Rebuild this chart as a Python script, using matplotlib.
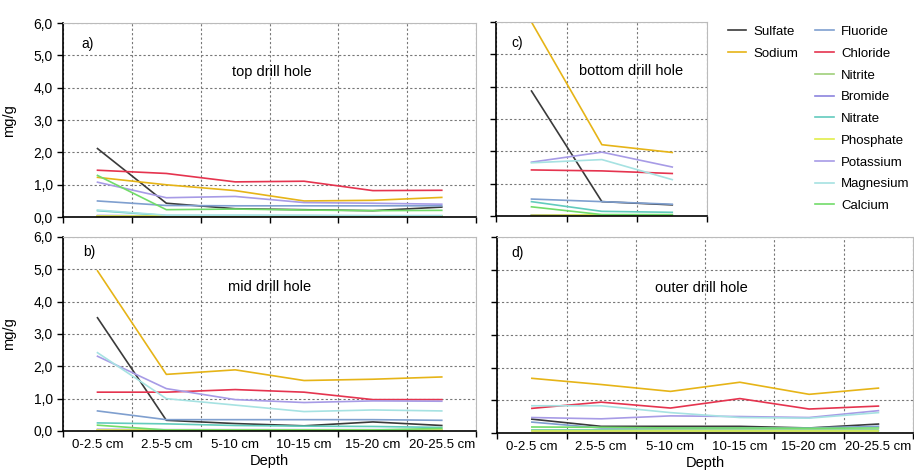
import numpy as np
import matplotlib
matplotlib.use("Agg")
import matplotlib.pyplot as plt
from matplotlib.ticker import FuncFormatter

plt.rcParams['font.family'] = ['Liberation Sans', 'DejaVu Sans']

depths = ['0-2.5 cm', '2.5-5 cm', '5-10 cm', '10-15 cm', '15-20 cm', '20-25.5 cm']
species = ['Sulfate', 'Sodium', 'Fluoride', 'Chloride', 'Nitrite', 'Bromide',
           'Nitrate', 'Phosphate', 'Potassium', 'Magnesium', 'Calcium']
colors = {
    'Sulfate': '#3a3a3a', 'Sodium': '#e6b417', 'Fluoride': '#7f9fcf',
    'Chloride': '#e5344f', 'Nitrite': '#9fd07a', 'Bromide': '#8c84de',
    'Nitrate': '#62cbbd', 'Phosphate': '#e2ee4a', 'Potassium': '#a79be6',
    'Magnesium': '#a6e2e2', 'Calcium': '#72dc6a',
}

# a) top drill hole
top = {
    'Sulfate':   [2.12, 0.43, 0.26, 0.23, 0.20, 0.31],
    'Sodium':    [1.23, 1.00, 0.82, 0.50, 0.52, 0.61],
    'Fluoride':  [0.50, 0.36, 0.35, 0.35, 0.35, 0.35],
    'Chloride':  [1.45, 1.35, 1.09, 1.11, 0.82, 0.83],
    'Nitrite':   [0.03, 0.02, 0.02, 0.02, 0.02, 0.02],
    'Bromide':   [0.05, 0.04, 0.04, 0.04, 0.04, 0.04],
    'Nitrate':   [0.20, 0.05, 0.05, 0.05, 0.04, 0.04],
    'Phosphate': [0.02, 0.02, 0.02, 0.02, 0.02, 0.02],
    'Potassium': [1.08, 0.60, 0.64, 0.45, 0.43, 0.40],
    'Magnesium': [0.22, 0.06, 0.06, 0.05, 0.05, 0.05],
    'Calcium':   [1.29, 0.23, 0.25, 0.22, 0.20, 0.21],
}

# b) mid drill hole
mid = {
    'Sulfate':   [3.50, 0.33, 0.23, 0.16, 0.28, 0.17],
    'Sodium':    [4.95, 1.75, 1.89, 1.56, 1.60, 1.67],
    'Fluoride':  [0.62, 0.35, 0.35, 0.35, 0.35, 0.33],
    'Chloride':  [1.20, 1.20, 1.28, 1.20, 0.97, 0.97],
    'Nitrite':   [0.03, 0.02, 0.02, 0.02, 0.02, 0.02],
    'Bromide':   [0.05, 0.04, 0.04, 0.04, 0.04, 0.04],
    'Nitrate':   [0.25, 0.22, 0.17, 0.15, 0.14, 0.11],
    'Phosphate': [0.02, 0.02, 0.02, 0.02, 0.02, 0.02],
    'Potassium': [2.31, 1.31, 0.97, 0.88, 0.93, 0.92],
    'Magnesium': [2.42, 1.00, 0.80, 0.60, 0.65, 0.62],
    'Calcium':   [0.18, 0.03, 0.03, 0.03, 0.03, 0.08],
}

# c) bottom drill hole (first three depths only)
bottom = {
    'Sulfate':   [3.87, 0.45, 0.35],
    'Sodium':    [6.00, 2.21, 1.97],
    'Fluoride':  [0.53, 0.45, 0.37],
    'Chloride':  [1.43, 1.40, 1.32],
    'Nitrite':   [0.03, 0.02, 0.02],
    'Bromide':   [0.04, 0.03, 0.03],
    'Nitrate':   [0.45, 0.15, 0.12],
    'Phosphate': [0.03, 0.04, 0.04],
    'Potassium': [1.67, 1.98, 1.52],
    'Magnesium': [1.65, 1.75, 1.13],
    'Calcium':   [0.29, 0.05, 0.05],
}

# d) outer drill hole
outer = {
    'Sulfate':   [0.42, 0.20, 0.20, 0.20, 0.15, 0.27],
    'Sodium':    [1.67, 1.48, 1.27, 1.55, 1.18, 1.37],
    'Fluoride':  [0.33, 0.15, 0.15, 0.15, 0.15, 0.20],
    'Chloride':  [0.75, 0.94, 0.76, 1.05, 0.73, 0.82],
    'Nitrite':   [0.10, 0.10, 0.10, 0.10, 0.10, 0.10],
    'Bromide':   [0.05, 0.05, 0.05, 0.05, 0.05, 0.05],
    'Nitrate':   [0.08, 0.08, 0.07, 0.07, 0.07, 0.07],
    'Phosphate': [0.05, 0.05, 0.05, 0.05, 0.05, 0.05],
    'Potassium': [0.47, 0.43, 0.52, 0.50, 0.47, 0.68],
    'Magnesium': [0.83, 0.83, 0.62, 0.47, 0.45, 0.62],
    'Calcium':   [0.18, 0.17, 0.15, 0.15, 0.14, 0.15],
}

fig = plt.figure(figsize=(9.14, 4.70), dpi=100)
ax_a = fig.add_axes([0.069, 0.538, 0.452, 0.413])
ax_b = fig.add_axes([0.069, 0.083, 0.452, 0.413])
ax_c = fig.add_axes([0.543, 0.540, 0.231, 0.413])
ax_d = fig.add_axes([0.544, 0.079, 0.455, 0.417])

# axes, data, tag, tag position, title, title position, y labels, x labels
panels = [
    (ax_a, top, 'a)', (0.06, 0.89), 'top drill hole', (0.506, 0.75), True, False),
    (ax_b, mid, 'b)', (0.063, 0.92), 'mid drill hole', (0.50, 0.74), True, True),
    (ax_c, bottom, 'c)', (0.10, 0.89), 'bottom drill hole', (0.64, 0.75), False, False),
    (ax_d, outer, 'd)', (0.05, 0.92), 'outer drill hole', (0.49, 0.74), False, True),
]

comma = FuncFormatter(lambda v, p: f'{v:.1f}'.replace('.', ','))
fs = 9.5

for ax, data, tag, tag_xy, title, title_xy, ylab, xlab in panels:
    n = len(data['Sulfate'])
    x = np.arange(n)
    for name in species:
        ax.plot(x, data[name], color=colors[name], lw=1.2, label=name)
    ax.set_xlim(-0.5, n - 0.5)
    ax.set_ylim(0, 6)
    ax.set_yticks(np.arange(0, 7, 1))
    ax.yaxis.set_major_formatter(comma)
    ax.set_xticks(np.arange(-0.5, n, 1))
    ax.set_xticklabels([])
    ax.set_xticks(x, minor=True)
    if xlab:
        ax.set_xticklabels(depths[:n], minor=True)
        ax.set_xlabel('Depth', fontsize=fs + 1, labelpad=2)
    ax.tick_params(axis='x', which='minor', length=0, labelsize=fs, pad=6)
    ax.tick_params(axis='x', which='major', length=4, width=1)
    ax.tick_params(axis='y', length=4, width=1, labelsize=fs + 0.5)
    if not ylab:
        ax.set_yticklabels([])
    else:
        ax.set_ylabel('mg/g', fontsize=fs + 1)
        ax.yaxis.set_label_coords(-0.113, 0.5)
    ax.grid(True, which='major', color='#777777', linestyle=(0, (2, 2)), lw=0.8)
    ax.set_axisbelow(True)
    for s in ['top', 'right']:
        ax.spines[s].set_color('#bbbbbb')
    for s in ['left', 'bottom']:
        ax.spines[s].set_color('black')
        ax.spines[s].set_linewidth(1.2)
    ax.text(*tag_xy, tag, transform=ax.transAxes, fontsize=fs + 0.5,
            va='center', ha='center')
    ax.text(*title_xy, title, transform=ax.transAxes, fontsize=fs + 1,
            ha='center', va='center')

handles = {h.get_label(): h for h in ax_a.get_lines()}
leg_kw = dict(loc='upper left', frameon=False, fontsize=fs,
              handlelength=1.4, labelspacing=0.72, handletextpad=0.55,
              borderaxespad=0, borderpad=0)
fig.legend([handles[s] for s in species[:2]], species[:2],
           bbox_to_anchor=(0.796, 0.945), **leg_kw)
fig.legend([handles[s] for s in species[2:]], species[2:],
           bbox_to_anchor=(0.892, 0.945), **leg_kw)

fig.savefig('out.png', dpi=100)
